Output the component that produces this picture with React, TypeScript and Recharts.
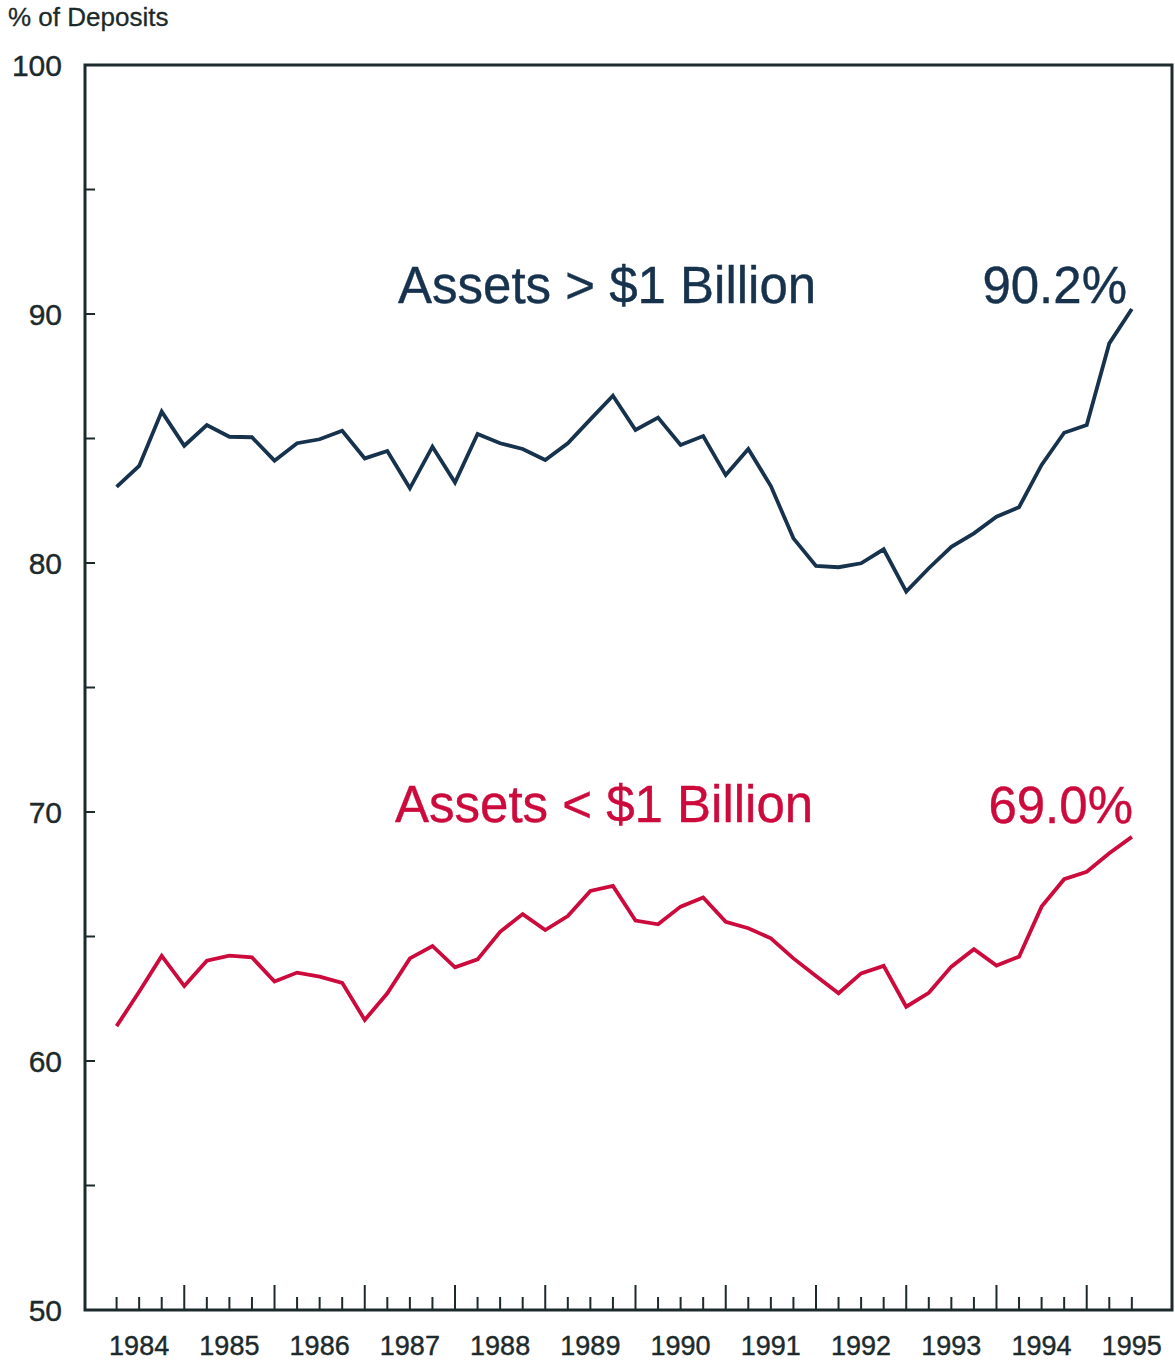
import React from "react";
import { LineChart, Line, XAxis, YAxis, ReferenceArea, Customized } from "recharts";

// quarterly, 1984 Q1 .. 1995 Q2
const years = [1984, 1985, 1986, 1987, 1988, 1989, 1990, 1991, 1992, 1993, 1994, 1995];
const quarterLabels = ["Q1", "Q2", "Q3", "Q4"];

const largeBanks = [
  83.06, 83.9, 86.08, 84.71, 85.54, 85.07, 85.05, 84.11, 84.81, 84.97, 85.31, 84.2,
  84.5, 83.0, 84.67, 83.23, 85.18, 84.81, 84.58, 84.14, 84.81, 85.77, 86.72, 85.34,
  85.84, 84.74, 85.1, 83.53, 84.58, 83.09, 80.99, 79.88, 79.83, 79.99, 80.55, 78.85,
  79.79, 80.65, 81.19, 81.86, 82.24, 83.94, 85.23, 85.54, 88.82, 90.2,
];

const smallBanks = [
  61.4, 62.78, 64.22, 63.01, 64.03, 64.23, 64.16, 63.19, 63.55, 63.39, 63.14, 61.65,
  62.72, 64.12, 64.62, 63.76, 64.08, 65.19, 65.9, 65.26, 65.82, 66.83, 67.03, 65.64,
  65.49, 66.2, 66.57, 65.59, 65.33, 64.93, 64.12, 63.41, 62.72, 63.52, 63.82, 62.18,
  62.74, 63.79, 64.49, 63.83, 64.19, 66.2, 67.3, 67.6, 68.34, 69.0,
];

const yTicks = [50, 55, 60, 65, 70, 75, 80, 85, 90, 95, 100];

const data = largeBanks.map((v, i) => ({
  q: i + 1,
  label: `${years[Math.floor(i / 4)]} ${quarterLabels[i % 4]}`,
  large: v,
  small: smallBanks[i],
}));
const xTicks = data.map((d) => d.q);

const FONT = '"Liberation Sans", Arial, Helvetica, sans-serif';
const INK = "#1c2a2c";
const NAVY = "#17324d";
const CRIMSON = "#cc0a3c";

const YTick = ({ x, y, payload }: any) => {
  const v = payload.value;
  return (
    <g>
      <line x1={x} x2={x + 10} y1={y} y2={y} stroke={INK} strokeWidth={2} />
      {v % 10 === 0 && (
        <text
          x={x - 23}
          y={y + 11}
          textAnchor="end"
          fontSize={30}
          fill={INK}
          stroke={INK}
          strokeWidth={0.4}
          fontFamily={FONT}
        >
          {v}
        </text>
      )}
    </g>
  );
};

const XTick = ({ x, y, payload }: any) => {
  const q = payload.value;
  const big = q % 4 === 0;
  return (
    <g>
      <line x1={x} x2={x} y1={y} y2={y - (big ? 25 : 13)} stroke={INK} strokeWidth={2} />
      {q % 4 === 2 && (
        <text
          x={x}
          y={y + 45}
          textAnchor="middle"
          fontSize={27}
          fill={INK}
          stroke={INK}
          strokeWidth={0.4}
          fontFamily={FONT}
        >
          {years[(q - 2) / 4]}
        </text>
      )}
    </g>
  );
};

const Notes = () => (
  <g fontFamily={FONT}>
    <text x={8} y={26} fontSize={26} fill={INK} stroke={INK} strokeWidth={0.3}>% of Deposits</text>
    <text x={398} y={303} fontSize={51} fill={NAVY} stroke={NAVY} strokeWidth={0.4}>Assets &gt; $1 Billion</text>
    <text x={1127} y={303} fontSize={51} fill={NAVY} stroke={NAVY} strokeWidth={0.4} textAnchor="end">90.2%</text>
    <text x={395} y={822} fontSize={51} fill={CRIMSON} stroke={CRIMSON} strokeWidth={0.4}>Assets &lt; $1 Billion</text>
    <text x={1133} y={823} fontSize={51} fill={CRIMSON} stroke={CRIMSON} strokeWidth={0.4} textAnchor="end">69.0%</text>
  </g>
);

export default function App() {
  return (
    <div style={{ position: "absolute", left: 0, top: 0, background: "#fff" }}>
      <LineChart
        width={1175}
        height={1363}
        data={data}
        margin={{ top: 65, right: 3, bottom: 0, left: 0 }}
      >
        <XAxis
          dataKey="q"
          type="number"
          domain={[-0.4, 47.78]}
          ticks={xTicks}
          interval={0}
          height={53}
          axisLine={false}
          tickLine={false}
          tickSize={0}
          tickMargin={0}
          tick={<XTick />}
        />
        <YAxis
          type="number"
          domain={[50, 100]}
          ticks={yTicks}
          interval={0}
          width={85}
          axisLine={false}
          tickLine={false}
          tickSize={0}
          tickMargin={0}
          tick={<YTick />}
        />
        <ReferenceArea
          x1={-0.4}
          x2={47.78}
          y1={50}
          y2={100}
          fill="none"
          fillOpacity={0}
          stroke={INK}
          strokeWidth={3}
          ifOverflow="visible"
        />
        <Line
          dataKey="large"
          stroke={NAVY}
          strokeWidth={3.8}
          dot={false}
          type="linear"
          isAnimationActive={false}
        />
        <Line
          dataKey="small"
          stroke={CRIMSON}
          strokeWidth={3.8}
          dot={false}
          type="linear"
          isAnimationActive={false}
        />
        <Customized component={<Notes />} />
      </LineChart>
    </div>
  );
}
